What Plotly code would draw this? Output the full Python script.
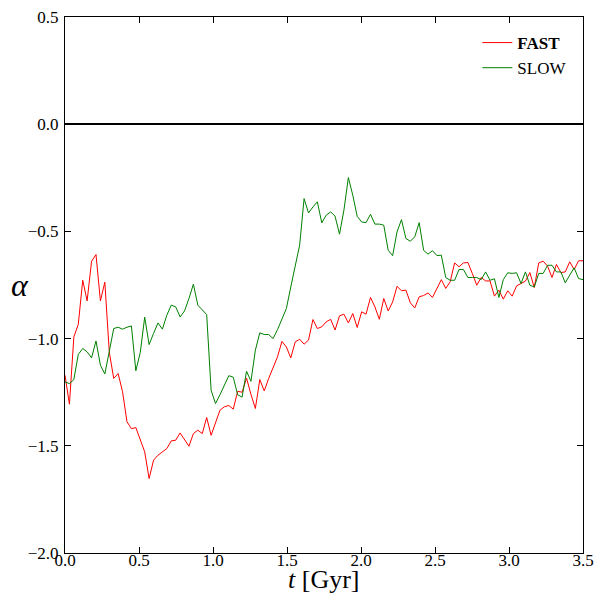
import numpy as np
import plotly.graph_objects as go

# time grid (Gyr), uniform sampling
t = [round(i * 3.5 / 117, 4) for i in range(118)]

alpha_fast = [
    -1.171, -1.306, -0.992, -0.934, -0.728, -0.824, -0.639, -0.608, -0.824, -0.737,
    -1.062, -1.186, -1.163, -1.248, -1.388, -1.420, -1.415, -1.474, -1.528, -1.653,
    -1.567, -1.544, -1.528, -1.513, -1.477, -1.474, -1.440, -1.474, -1.502, -1.443,
    -1.427, -1.443, -1.368, -1.451, -1.396, -1.334, -1.318, -1.312, -1.329, -1.246,
    -1.250, -1.184, -1.260, -1.326, -1.191, -1.244, -1.186, -1.136, -1.085, -1.013,
    -1.039, -1.090, -1.015, -1.003, -1.026, -1.007, -0.911, -0.953, -0.945, -0.922,
    -0.910, -0.960, -0.894, -0.886, -0.927, -0.883, -0.948, -0.875, -0.886, -0.808,
    -0.852, -0.910, -0.813, -0.871, -0.829, -0.756, -0.777, -0.774, -0.833, -0.857,
    -0.805, -0.799, -0.787, -0.808, -0.766, -0.725, -0.766, -0.735, -0.647, -0.665,
    -0.647, -0.645, -0.696, -0.751, -0.715, -0.731, -0.731, -0.802, -0.774, -0.816,
    -0.777, -0.802, -0.754, -0.743, -0.732, -0.692, -0.762, -0.647, -0.639, -0.662,
    -0.715, -0.654, -0.692, -0.689, -0.642, -0.678, -0.637, -0.637,
]

alpha_slow = [
    -1.202, -1.210, -1.191, -1.074, -1.046, -1.062, -1.090, -1.011, -1.124, -1.165,
    -1.060, -0.953, -0.947, -0.956, -0.947, -0.941, -1.150, -1.065, -0.900, -1.028,
    -0.976, -0.927, -0.956, -0.891, -0.844, -0.852, -0.899, -0.871, -0.813, -0.746,
    -0.844, -0.864, -0.888, -1.241, -1.303, -1.262, -1.214, -1.173, -1.180, -1.262,
    -1.273, -1.152, -1.199, -1.054, -0.973, -0.981, -0.981, -1.000, -0.958, -0.906,
    -0.860, -0.759, -0.658, -0.564, -0.347, -0.414, -0.386, -0.362, -0.460, -0.424,
    -0.409, -0.429, -0.513, -0.401, -0.249, -0.331, -0.430, -0.456, -0.459, -0.420,
    -0.466, -0.466, -0.471, -0.588, -0.613, -0.502, -0.445, -0.533, -0.546, -0.525,
    -0.459, -0.588, -0.606, -0.590, -0.613, -0.611, -0.715, -0.728, -0.728, -0.678,
    -0.678, -0.715, -0.715, -0.715, -0.725, -0.689, -0.728, -0.721, -0.808, -0.725,
    -0.693, -0.696, -0.693, -0.743, -0.689, -0.751, -0.759, -0.696, -0.696, -0.658,
    -0.658, -0.689, -0.689, -0.740, -0.704, -0.670, -0.720, -0.725,
]

x_ticks = [0.0, 0.5, 1.0, 1.5, 2.0, 2.5, 3.0, 3.5]
y_ticks = [-2.0, -1.5, -1.0, -0.5, 0.0, 0.5]

FONT = "Liberation Serif"

fig = go.Figure()
fig.add_trace(go.Scatter(x=t, y=alpha_fast, mode="lines", name="<b>FAST</b>",
                         line=dict(color="#ff0000", width=1)))
fig.add_trace(go.Scatter(x=t, y=alpha_slow, mode="lines", name="SLOW",
                         line=dict(color="#008000", width=1)))

axis_common = dict(
    showline=True, linecolor="black", linewidth=1, mirror="allticks",
    ticks="inside", ticklen=6, tickcolor="black", tickwidth=1,
    showgrid=False, automargin=False,
    tickfont=dict(family=FONT, size=17, color="black"),
)

fig.update_xaxes(range=[0, 3.5], tickvals=x_ticks, tickformat=".1f",
                 zeroline=False, ticklabelstandoff=-8,
                 **axis_common)
fig.update_yaxes(range=[-2.0, 0.5], tickvals=y_ticks, tickformat=".1f",
                 zeroline=True, zerolinecolor="black", zerolinewidth=2,
                 ticklabelstandoff=2,
                 **axis_common)

# axis titles as annotations for precise placement
fig.add_annotation(text="<i>t</i> [Gyr]", xref="paper", yref="paper", x=0.5, y=0,
                   xanchor="center", yanchor="middle", yshift=-26, showarrow=False,
                   font=dict(family=FONT, size=26, color="black"))
fig.add_annotation(text="<i>α</i>", xref="paper", yref="paper", x=0, y=0.5,
                   xanchor="center", yanchor="middle", xshift=-45, showarrow=False,
                   font=dict(family=FONT, size=32, color="black"))

fig.update_layout(
    width=600, height=595,
    margin=dict(l=65, r=17, t=17, b=42),
    plot_bgcolor="white", paper_bgcolor="white",
    font=dict(family=FONT, color="black"),
    legend=dict(x=0.796, y=0.985, xanchor="left", yanchor="top",
                bgcolor="rgba(0,0,0,0)", borderwidth=0,
                font=dict(family=FONT, size=17, color="black"),
                itemwidth=30, tracegroupgap=0),
    showlegend=True,
)

fig.write_html("out.html", config={"displayModeBar": False},
               post_script="document.body.style.margin='0';document.body.style.padding='0';")
